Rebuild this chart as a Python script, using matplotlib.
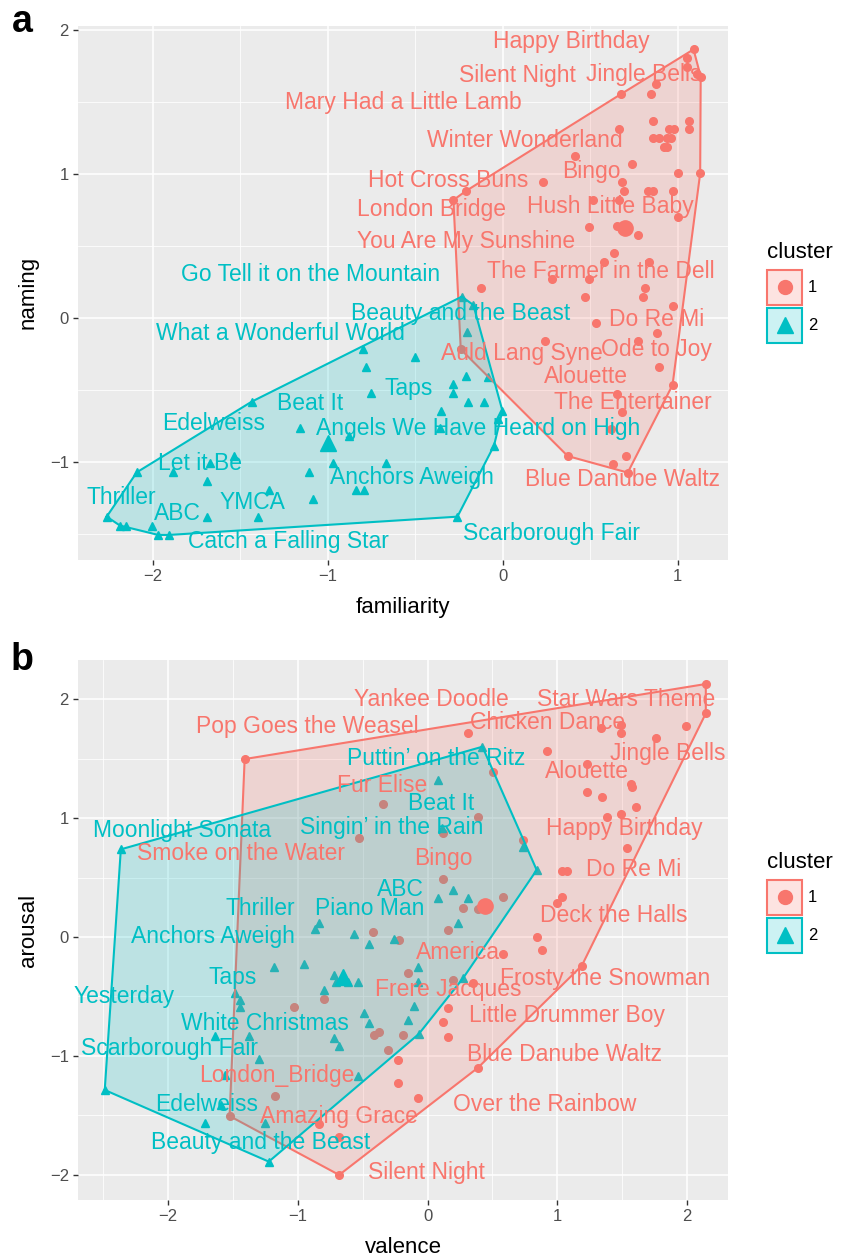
import matplotlib
matplotlib.use("Agg")
import matplotlib.pyplot as plt
from matplotlib.patches import Rectangle
from matplotlib.lines import Line2D
import numpy as np

plt.rcParams["font.family"] = ["Liberation Sans", "DejaVu Sans"]

RED = "#F8766D"
TEAL = "#00BFC4"

# ---------------- panel a : familiarity / naming ----------------
fam_c1_x = [1.090, 1.055, 1.055, 1.112, 1.131, 0.876, 0.846, 0.676, 0.861, 1.067,
            1.067, 0.667, 0.952, 0.981, 0.861, 0.890, 0.937, 0.960, 0.922, 0.937,
            0.410, 0.737, 1.004, 1.128, 0.229, 0.680, -0.210, -0.282, 0.690, 0.832,
            0.861, 0.970, 0.518, 0.667, 1.004, 0.495, 0.651, 0.775, 0.638, 0.581,
            0.836, 0.280, 0.495, -0.124, 0.813, 0.800, 0.470, 0.970, 0.533, 0.884,
            0.775, 0.242, -0.240, 0.895, 0.970, 0.655, 0.680, 0.617, 0.371, 0.703,
            0.629, 0.714]
fam_c1_y = [1.863, 1.801, 1.743, 1.692, 1.674, 1.620, 1.553, 1.553, 1.368, 1.368,
            1.308, 1.308, 1.308, 1.308, 1.245, 1.245, 1.245, 1.245, 1.188, 1.188,
            1.123, 1.065, 1.002, 1.002, 0.940, 0.940, 0.880, 0.817, 0.880, 0.880,
            0.880, 0.880, 0.817, 0.817, 0.697, 0.632, 0.637, 0.574, 0.451, 0.389,
            0.389, 0.266, 0.266, 0.208, 0.208, 0.141, 0.141, 0.081, -0.039, -0.104,
            -0.162, -0.162, -0.220, -0.345, -0.468, -0.530, -0.657, -0.775, -0.961, -0.958,
            -1.019, -1.076]

fam_c2_x = [-0.234, -0.168, -0.202, -0.796, -0.501, -0.781, -0.210, -0.082, -0.282, -0.282,
            -0.754, -0.196, -0.110, -1.434, -0.354, -0.002, -0.029, -1.158, -0.876, -0.358,
            -0.050, -1.535, -1.672, -0.971, -0.669, -2.091, -1.882, -1.107, -1.691, -1.335,
            -0.840, -0.792, -1.082, -2.263, -1.691, -1.396, -0.259, -2.187, -2.150, -2.006,
            -1.968, -1.907]
fam_c2_y = [0.146, 0.088, -0.097, -0.218, -0.275, -0.345, -0.403, -0.410, -0.461, -0.521,
            -0.521, -0.583, -0.583, -0.583, -0.646, -0.646, -0.706, -0.764, -0.822, -0.769,
            -0.889, -0.958, -1.007, -1.007, -1.007, -1.074, -1.074, -1.074, -1.134, -1.197,
            -1.197, -1.197, -1.259, -1.382, -1.382, -1.382, -1.382, -1.444, -1.444, -1.444,
            -1.509, -1.509]

fam_centers = [(0.699, 0.620), (-1.0, -0.873)]

fam_lab1 = ["Happy Birthday", "Silent Night", "Jingle Bells", "Mary Had a Little Lamb",
            "Winter Wonderland", "Bingo", "Hot Cross Buns", "Hush Little Baby",
            "London Bridge", "You Are My Sunshine", "The Farmer in the Dell", "Do Re Mi",
            "Auld Lang Syne", "Ode to Joy", "Alouette", "The Entertainer", "Blue Danube Waltz"]
fam_lab1_x = [0.389, 0.082, 0.803, -0.57, 0.127, 0.506, -0.312, 0.616, -0.407, -0.21,
              0.56, 0.882, 0.11, 0.88, 0.475, 0.745, 0.682]
fam_lab1_y = [1.917, 1.683, 1.692, 1.493, 1.229, 1.014, 0.951, 0.771, 0.748, 0.528,
              0.32, -0.016, -0.247, -0.22, -0.41, -0.59, -1.127]

fam_lab2 = ["Go Tell it on the Mountain", "Beauty and the Beast", "What a Wonderful World",
            "Taps", "Beat It", "Edelweiss", "Angels We Have Heard on High", "Let it Be",
            "Anchors Aweigh", "Thriller", "YMCA", "ABC", "Catch a Falling Star",
            "Scarborough Fair"]
fam_lab2_x = [-1.097, -0.241, -1.273, -0.535, -1.1, -1.651, -0.141, -1.73, -0.518, -2.177,
              -1.428, -1.861, -1.227, 0.277]
fam_lab2_y = [0.303, 0.03, -0.108, -0.49, -0.595, -0.738, -0.768, -1.011, -1.108, -1.247,
              -1.285, -1.363, -1.556, -1.496]

# ---------------- panel b : valence / arousal ----------------
val_c1_x = [2.144, 2.144, 1.989, 1.762, 1.494, 1.494, 1.339, 0.312, 0.919, 1.228,
            0.501, 1.569, 1.575, 1.228, 1.344, 1.610, 0.389, 1.383, 1.494, 0.733,
            1.533, 1.035, 1.078, 0.119, 0.578, 1.035, 0.996, 0.273, 0.389, -1.409,
            -0.340, -0.531, 0.119, 0.157, -0.418, -0.222, 0.578, 0.846, 0.885, 1.189,
            -0.147, 0.196, 0.351, -0.797, -1.029, 0.157, 0.119, -0.415, -0.377, -0.186,
            0.157, -0.302, -0.224, -0.224, -0.070, 0.389, -1.179, -1.525, -0.836, -0.681,
            -0.681]
val_c1_y = [2.130, 1.883, 1.779, 1.672, 1.785, 1.715, 1.756, 1.715, 1.566, 1.456,
            1.392, 1.288, 1.260, 1.221, 1.181, 1.097, 1.013, 1.013, 1.033, 0.817,
            0.752, 0.558, 0.558, 0.488, 0.339, 0.339, 0.284, 0.242, 0.236, 1.498,
            1.117, 0.836, 0.873, 0.059, 0.039, -0.025, -0.143, -0.003, -0.109, -0.241,
            -0.306, -0.362, -0.390, -0.522, -0.587, -0.600, -0.713, -0.825, -0.802, -0.825,
            -0.844, -0.951, -1.035, -1.232, -1.358, -1.100, -1.338, -1.507, -1.574, -1.681,
            -2.003]

val_c2_x = [0.423, 0.080, 0.113, 0.733, 0.841, 0.196, 0.080, 0.312, 0.235, 0.273,
            -0.836, -0.869, -0.567, -0.454, -0.262, -0.071, -1.181, -0.952, -0.720, -0.609,
            -0.534, -0.707, -0.797, -0.075, -0.108, -0.493, -0.454, -0.147, -0.067, -0.720,
            -0.681, -0.534, -2.363, -1.481, -1.447, -1.447, -1.641, -1.372, -1.295, -1.563,
            -2.487, -1.589, -1.718, -1.254, -1.223]
val_c2_y = [1.602, 1.322, 0.915, 0.760, 0.564, 0.396, 0.326, 0.326, 0.118, -0.348,
            0.115, 0.065, 0.025, -0.059, -0.018, -0.250, -0.250, -0.230, -0.320, -0.375,
            -0.381, -0.376, -0.446, -0.381, -0.578, -0.637, -0.727, -0.699, -0.816, -0.853,
            -0.918, -1.170, 0.738, -0.474, -0.530, -0.592, -0.833, -0.833, -1.030, -1.162,
            -1.288, -1.414, -1.563, -1.563, -1.891]

val_centers = [(0.445, 0.26), (-0.650, -0.334)]

val_lab1 = ["Yankee Doodle", "Star Wars Theme", "Pop Goes the Weasel", "Chicken Dance",
            "Jingle Bells", "Fur Elise", "Alouette", "Happy Birthday", "Smoke on the Water",
            "Bingo", "Do Re Mi", "Deck the Halls", "America", "Frosty the Snowman",
            "Frere Jacques", "Little Drummer Boy", "Blue Danube Waltz", "London_Bridge",
            "Over the Rainbow", "Amazing Grace", "Silent Night"]
val_lab1_x = [0.027, 1.528, -0.929, 0.921, 1.853, -0.347, 1.226, 1.514, -1.44, 0.122,
              1.589, 1.431, 0.238, 1.365, 0.158, 1.075, 1.055, -1.16, 0.899, -0.682, -0.006]
val_lab1_y = [2.0, 2.0, 1.77, 1.804, 1.546, 1.279, 1.391, 0.915, 0.702, 0.662,
              0.572, 0.177, -0.128, -0.348, -0.44, -0.657, -0.985, -1.162, -1.414, -1.513,
              -1.984]

val_lab2 = ["Puttin\u2019 on the Ritz", "Beat It", "Moonlight Sonata", "Singin\u2019 in the Rain",
            "ABC", "Thriller", "Piano Man", "Anchors Aweigh", "Taps", "Yesterday",
            "White Christmas", "Scarborough Fair", "Edelweiss", "Beauty and the Beast"]
val_lab2_x = [0.064, 0.104, -1.893, -0.277, -0.212, -1.288, -0.443, -1.656, -1.502, -2.34,
              -1.255, -1.985, -1.699, -1.285]
val_lab2_y = [1.504, 1.12, 0.898, 0.923, 0.40, 0.241, 0.241, 0.005, -0.339, -0.505,
              -0.727, -0.937, -1.406, -1.731]

W, H = 842, 1255


def convex_hull(xs, ys):
    pts = sorted(set(zip(xs, ys)))

    def cross(o, a, b):
        return (a[0] - o[0]) * (b[1] - o[1]) - (a[1] - o[1]) * (b[0] - o[0])

    lower = []
    for p in pts:
        while len(lower) >= 2 and cross(lower[-2], lower[-1], p) <= 0:
            lower.pop()
        lower.append(p)
    upper = []
    for p in reversed(pts):
        while len(upper) >= 2 and cross(upper[-2], upper[-1], p) <= 0:
            upper.pop()
        upper.append(p)
    return np.array(lower[:-1] + upper[:-1])


def style_axes(ax, xlim, ylim, xticks, yticks, xlabel, ylabel):
    ax.set_facecolor("#EBEBEB")
    for s in ax.spines.values():
        s.set_visible(False)
    ax.set_xticks(xticks)
    ax.set_yticks(yticks)
    ax.set_xticks(np.arange(xticks[0] - 0.5, xticks[-1] + 1, 1.0), minor=True)
    ax.set_yticks(np.arange(yticks[0] - 0.5, yticks[-1] + 1, 1.0), minor=True)
    # limits after ticks, otherwise set_ticks widens the view
    ax.set_xlim(*xlim)
    ax.set_ylim(*ylim)
    ax.grid(which="major", color="white", linewidth=1.1)
    ax.grid(which="minor", color="white", linewidth=0.55)
    ax.set_axisbelow(True)
    ax.tick_params(which="major", length=3.5, width=1.0, color="#333333",
                   labelsize=12, labelcolor="#4D4D4D", pad=3)
    ax.tick_params(which="minor", length=0)
    ax.set_xlabel(xlabel, fontsize=16, labelpad=9)
    ax.set_ylabel(ylabel, fontsize=16, labelpad=8)


def draw_panel(ax, c1x, c1y, c2x, c2y, centers, lab1, l1x, l1y, lab2, l2x, l2y):
    ax.plot(c1x, c1y, "o", color=RED, markersize=5.5, zorder=2)
    ax.plot(c2x, c2y, "^", color=TEAL, markersize=6, zorder=2)
    for xs, ys, col in [(c1x, c1y, RED), (c2x, c2y, TEAL)]:
        hull = convex_hull(xs, ys)
        ax.fill(hull[:, 0], hull[:, 1], facecolor=col, alpha=0.2, zorder=3)
        closed = np.vstack([hull, hull[:1]])
        ax.plot(closed[:, 0], closed[:, 1], color=col, linewidth=1.5, zorder=3)
    ax.plot(*centers[0], "o", color=RED, markersize=11, zorder=4)
    ax.plot(*centers[1], "^", color=TEAL, markersize=12, zorder=4)
    for t, x, y in zip(lab1, l1x, l1y):
        ax.text(x, y, t, color=RED, fontsize=16.5, ha="center", va="center", zorder=5)
    for t, x, y in zip(lab2, l2x, l2y):
        ax.text(x, y, t, color=TEAL, fontsize=16.5, ha="center", va="center", zorder=5)


def add_legend(fig, title_y):
    # hand-built legend, positions in figure pixels
    x0, box = 767, 35
    fig.text(x0 / W, 1 - title_y / H, "cluster", fontsize=16, ha="left", va="center")
    for i, (col, mk, ms, lab) in enumerate([(RED, "o", 10, "1"), (TEAL, "^", 11, "2")]):
        cy = title_y + 35 + i * 38
        fig.add_artist(Rectangle((x0 / W, 1 - (cy + box / 2) / H), box / W, box / H,
                                 transform=fig.transFigure, facecolor=col, alpha=0.2,
                                 edgecolor="none"))
        fig.add_artist(Rectangle((x0 / W, 1 - (cy + box / 2) / H), box / W, box / H,
                                 transform=fig.transFigure, facecolor="none",
                                 edgecolor=col, linewidth=1.5))
        fig.add_artist(Line2D([(x0 + box / 2) / W], [1 - cy / H], marker=mk, color=col,
                              markersize=ms, linestyle="", transform=fig.transFigure))
        fig.text((x0 + box + 6) / W, 1 - cy / H, lab, fontsize=12, ha="left", va="center")


fig = plt.figure(figsize=(W / 100, H / 100), dpi=100)

ax_a = fig.add_axes([78 / W, 1 - 560 / H, 650 / W, 534.5 / H])
style_axes(ax_a, (-2.427, 1.287), (-1.683, 2.029), [-2, -1, 0, 1], [-1, 0, 1, 2],
           "familiarity", "naming")
draw_panel(ax_a, fam_c1_x, fam_c1_y, fam_c2_x, fam_c2_y, fam_centers,
           fam_lab1, fam_lab1_x, fam_lab1_y, fam_lab2, fam_lab2_x, fam_lab2_y)

ax_b = fig.add_axes([78 / W, 1 - 1200 / H, 650 / W, 540 / H])
style_axes(ax_b, (-2.693, 2.315), (-2.214, 2.332), [-2, -1, 0, 1, 2], [-2, -1, 0, 1, 2],
           "valence", "arousal")
draw_panel(ax_b, val_c1_x, val_c1_y, val_c2_x, val_c2_y, val_centers,
           val_lab1, val_lab1_x, val_lab1_y, val_lab2, val_lab2_x, val_lab2_y)

add_legend(fig, 252)
add_legend(fig, 862)

fig.text(22 / W, 1 - 22 / H, "a", fontsize=27, fontweight="bold", ha="center", va="center")
fig.text(22 / W, 1 - 660 / H, "b", fontsize=27, fontweight="bold", ha="center", va="center")

fig.savefig("out.png", dpi=100)
